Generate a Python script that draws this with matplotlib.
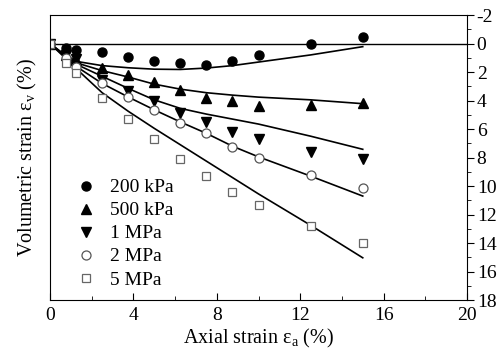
import matplotlib
matplotlib.use('Agg')
import matplotlib.pyplot as plt
from matplotlib.ticker import MultipleLocator

plt.rcParams['font.family'] = 'Liberation Serif'
plt.rcParams['mathtext.fontset'] = 'custom'
plt.rcParams['mathtext.rm'] = 'Liberation Serif'
plt.rcParams['mathtext.it'] = 'Liberation Serif:italic'
plt.rcParams['axes.unicode_minus'] = False

# measured points (axial strain %, volumetric strain %)
strain_a = [0, 0.75, 1.25, 2.5, 3.75, 5, 6.25, 7.5, 8.75, 10, 12.5, 15]
ev_200kpa = [0, 0.3, 0.45, 0.62, 0.95, 1.23, 1.4, 1.52, 1.23, 0.82, 0.04, -0.48]
ev_500kpa = [0, 0.8, 1.16, 1.7, 2.2, 2.7, 3.25, 3.8, 4.05, 4.4, 4.3, 4.2]
ev_1mpa = [0, 0.8, 1.1, 2.55, 3.33, 4.05, 4.9, 5.5, 6.2, 6.7, 7.6, 8.13]
ev_2mpa = [0, 1.0, 1.63, 2.8, 3.73, 4.67, 5.56, 6.3, 7.24, 8.06, 9.23, 10.12]
ev_5mpa = [0, 1.4, 2.1, 3.85, 5.3, 6.7, 8.1, 9.3, 10.4, 11.35, 12.8, 14.0]

# fitted curves
fit_x = [0, 0.5, 1.25, 2.5, 3.75, 5, 6.25, 7.5, 8.75, 10, 12.5, 15]
fit_200kpa = [0, 0.55, 1.25, 1.55, 1.7, 1.8, 1.82, 1.72, 1.55, 1.3, 0.8, 0.22]
fit_500kpa = [0, 0.6, 1.35, 1.9, 2.35, 2.85, 3.2, 3.45, 3.62, 3.76, 3.95, 4.22]
fit_1mpa = [0, 0.62, 1.45, 2.3, 3.15, 3.95, 4.55, 4.95, 5.3, 5.65, 6.5, 7.42]
fit_2mpa = [0, 0.65, 1.6, 2.8, 3.75, 4.65, 5.5, 6.3, 7.2, 7.95, 9.3, 10.7]
fit_5mpa = [0, 0.7, 1.75, 3.45, 4.75, 5.95, 7.1, 8.25, 9.4, 10.55, 12.75, 15.03]

labels = ['200 kPa', '500 kPa', '1 MPa', '2 MPa', '5 MPa']

fig = plt.figure(figsize=(5, 3.49), dpi=100)
ax = fig.add_axes([0.1, 0.14, 0.834, 0.817])

ax.axhline(0, color='black', lw=1.0)

for fit in [fit_200kpa, fit_500kpa, fit_1mpa, fit_2mpa, fit_5mpa]:
    ax.plot(fit_x, fit, color='black', lw=1.2)

ax.plot(strain_a, ev_200kpa, 'o', ms=6.5, color='black', label=labels[0])
ax.plot(strain_a, ev_500kpa, '^', ms=7, color='black', label=labels[1])
ax.plot(strain_a, ev_1mpa, 'v', ms=7, color='black', label=labels[2])
ax.plot(strain_a, ev_2mpa, 'o', ms=6.5, mfc='white', mec='#555555', mew=0.9, label=labels[3])
ax.plot(strain_a, ev_5mpa, 's', ms=5.5, mfc='white', mec='#666666', mew=0.9, label=labels[4])

ax.set_xlim(0, 20)
ax.set_ylim(18, -2)
ax.xaxis.set_major_locator(MultipleLocator(4))
ax.xaxis.set_minor_locator(MultipleLocator(2))
ax.yaxis.set_major_locator(MultipleLocator(2))
ax.yaxis.set_minor_locator(MultipleLocator(1))
ax.yaxis.tick_right()
ax.yaxis.set_label_position('left')
ax.tick_params(axis='x', which='both', direction='in', top=False, labelsize=14, pad=5)
ax.tick_params(axis='x', which='major', length=5)
ax.tick_params(axis='x', which='minor', length=3)
ax.tick_params(axis='y', which='both', direction='out', left=False, right=True, labelsize=14, pad=2)
ax.tick_params(axis='y', which='major', length=5)
ax.tick_params(axis='y', which='minor', length=3)

ax.set_xlabel(r'Axial strain ε$_\mathrm{a}$ (%)', fontsize=14.5, labelpad=2)
ax.set_ylabel(r'Volumetric strain ε$_\mathrm{v}$ (%)', fontsize=14.5, labelpad=8)

ax.legend(loc='upper left', bbox_to_anchor=(0.035, 0.46), frameon=False, fontsize=14,
          handletextpad=0.65, labelspacing=0.28, borderpad=0, handlelength=1.2)

fig.savefig('out.png', dpi=100)
